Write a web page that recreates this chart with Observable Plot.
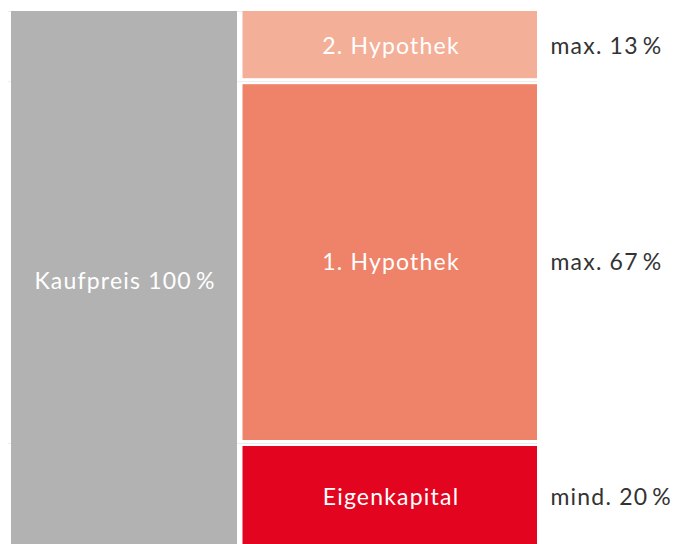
<!DOCTYPE html>
<html>
<head>
<meta charset="utf-8">
<script src="https://cdn.jsdelivr.net/npm/d3@7"></script>
<script src="https://cdn.jsdelivr.net/npm/@observablehq/plot@0.6"></script>
<style>
  html, body { margin: 0; padding: 0; background: #fff; overflow: hidden; }
  #chart svg { display: block; }
  #chart text { font-weight: 400; letter-spacing: 1.2px; }
</style>
</head>
<body>
<div id="chart"></div>
<script>
// ---- data ----
const columns = ["Kaufpreis", "Finanzierung"];
const totalLabel = "Kaufpreis 100\u2009%";
const totalValue = 100;
const parts = ["Eigenkapital", "1. Hypothek", "2. Hypothek"]; // bottom → top
const shares = [20, 67, 13];
const shareLabels = ["mind. 20\u2009%", "max. 67\u2009%", "max. 13\u2009%"];

// ---- derived ----
let acc = 0;
const stack = parts.map((p, i) => {
  const r = {part: p, y1: acc, y2: acc + shares[i], label: shareLabels[i], top: i === parts.length - 1};
  acc += shares[i];
  return r;
});
const total = [{column: columns[0], value: totalValue, label: totalLabel}];
const boundaries = stack.map(d => d.y2);

const font = "Lato, 'Open Sans', sans-serif";
const fs = 23;

const chart = Plot.plot({
  width: 679,
  height: 544,
  marginTop: 0, marginBottom: 0, marginLeft: 8, marginRight: 142,
  style: {fontFamily: font, background: "white"},
  x: {type: "band", domain: columns, range: [11, 537], padding: 0, axis: null},
  y: {domain: [0, 100], range: [551, 11], axis: null},
  color: {domain: parts, range: ["#e30520", "#ee836a", "#f4af98"]},
  marks: [
    Plot.ruleY(boundaries, {stroke: "#ececec", strokeWidth: 1}),
    Plot.barY(total, {x: "column", y1: 0, y2: "value", fill: "#b2b2b2", insetRight: 37}),
    Plot.barY(stack.filter(d => !d.top), {x: () => columns[1], y1: "y1", y2: "y2", fill: "part", insetTop: 3, insetBottom: 3, insetLeft: -31.5}),
    Plot.barY(stack.filter(d => d.top), {x: () => columns[1], y1: "y1", y2: "y2", fill: "part", insetBottom: 3, insetLeft: -31.5}),
    Plot.text(total, {x: "column", y: d => d.value / 2, text: "label", fill: "white", fontSize: fs, dx: -18}),
    Plot.text(stack, {x: () => columns[1], y: d => (d.y1 + d.y2) / 2, text: "part", fill: "white", fontSize: fs, dx: -15}),
    Plot.text(stack, {x: () => columns[1], y: d => (d.y1 + d.y2) / 2, text: "label", fill: "#333", fontSize: fs, textAnchor: "start", dx: 144.5})
  ]
});
document.getElementById("chart").appendChild(chart);
</script>
</body>
</html>
